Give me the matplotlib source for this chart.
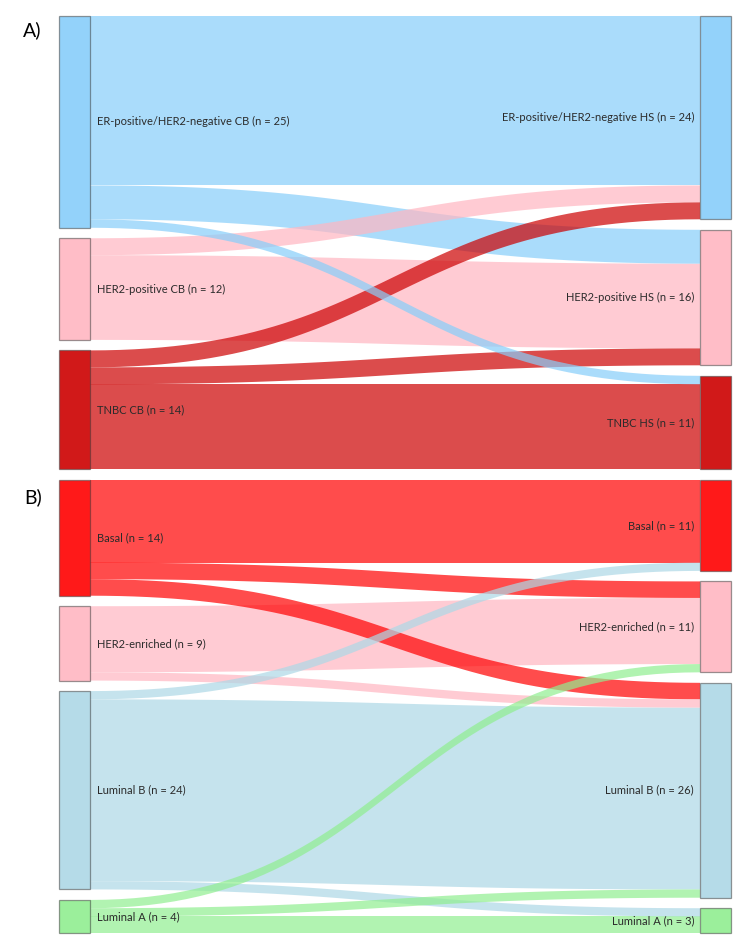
import numpy as np
import matplotlib
matplotlib.use('Agg')
import matplotlib.pyplot as plt
from matplotlib.patches import Rectangle, Polygon

plt.rcParams['font.family'] = ['Lato', 'DejaVu Sans']

# ---------------------------------------------------------------- data
# panel A: clinical biopsy (CB) -> histology/surgery (HS)
a_sources = ['ER-positive/HER2-negative CB', 'HER2-positive CB', 'TNBC CB']
a_targets = ['ER-positive/HER2-negative HS', 'HER2-positive HS', 'TNBC HS']
a_colors = ['lightskyblue', 'lightpink', '#CC0000']
# rows = source, cols = target
a_flows = [[20, 4, 1],
           [2, 10, 0],
           [2, 2, 10]]

# panel B: PAM50 subtypes
b_sources = ['Basal', 'HER2-enriched', 'Luminal B', 'Luminal A']
b_targets = ['Basal', 'HER2-enriched', 'Luminal B', 'Luminal A']
b_colors = ['red', 'lightpink', 'lightblue', 'lightgreen']
b_flows = [[10, 2, 2, 0],
           [0, 8, 1, 0],
           [1, 0, 22, 1],
           [0, 1, 1, 2]]

# ---------------------------------------------------------------- style
FIG_W, FIG_H = 756, 949
NODE_LEFT_X = 59
NODE_RIGHT_X = 700
NODE_W = 31
PAD = 10.5
LINK_ALPHA = 0.7
NODE_ALPHA = 0.9
LABEL_SIZE = 8.0
TEXT_RGB = '#2b2b2b'


def bezier_edge(x0, x1, y0, y1, n=60):
    t = np.linspace(0, 1, n)
    xm = (x0 + x1) / 2
    xs = (1-t)**3*x0 + 3*(1-t)**2*t*xm + 3*(1-t)*t**2*xm + t**3*x1
    ys = (1-t)**3*y0 + 3*(1-t)**2*t*y0 + 3*(1-t)*t**2*y1 + t**3*y1
    return xs, ys


def node_positions(totals, top, scale):
    pos = []
    y = top
    for v in totals:
        pos.append((y, y + v * scale))
        y += v * scale + PAD
    return pos


def draw_sankey(ax, sources, targets, colors, flows, top, bottom):
    flows = np.array(flows)
    src_tot = flows.sum(axis=1)
    tgt_tot = flows.sum(axis=0)
    height = bottom - top
    scale = min((height - (len(src_tot)-1)*PAD) / src_tot.sum(),
                (height - (len(tgt_tot)-1)*PAD) / tgt_tot.sum())
    src_pos = node_positions(src_tot, top, scale)
    tgt_pos = node_positions(tgt_tot, top, scale)

    x0 = NODE_LEFT_X + NODE_W
    x1 = NODE_RIGHT_X

    # target-side offsets follow source order
    tgt_off = [p[0] for p in tgt_pos]
    link_t = {}
    for j in range(len(targets)):
        for i in range(len(sources)):
            if flows[i, j]:
                link_t[(i, j)] = tgt_off[j]
                tgt_off[j] += flows[i, j]*scale
    # source-side offsets follow target order
    src_off = [p[0] for p in src_pos]
    links = []
    for i in range(len(sources)):
        for j in range(len(targets)):
            if flows[i, j]:
                h = flows[i, j]*scale
                links.append((flows[i, j], i, src_off[i], link_t[(i, j)], h))
                src_off[i] += h

    # thick links first, thin ones on top
    links.sort(key=lambda l: -l[0])
    for v, i, s0, t0, h in links:
        xt, yt = bezier_edge(x0, x1, s0, t0)
        xb, yb = bezier_edge(x0, x1, s0 + h, t0 + h)
        pts = np.column_stack([np.concatenate([xt, xb[::-1]]),
                               np.concatenate([yt, yb[::-1]])])
        ax.add_patch(Polygon(pts, closed=True, facecolor=colors[i],
                             alpha=LINK_ALPHA, edgecolor='none', zorder=1))

    # nodes and labels
    for i, (y0, y1) in enumerate(src_pos):
        ax.add_patch(Rectangle((NODE_LEFT_X, y0), NODE_W, y1-y0,
                               facecolor=matplotlib.colors.to_rgba(colors[i], NODE_ALPHA),
                               edgecolor=(0.27, 0.27, 0.27, 0.55), linewidth=0.9, zorder=3))
        ax.text(NODE_LEFT_X + NODE_W + 7, (y0+y1)/2,
                '%s (n = %d)' % (sources[i], src_tot[i]),
                ha='left', va='center', fontsize=LABEL_SIZE, color=TEXT_RGB, zorder=4)
    for j, (y0, y1) in enumerate(tgt_pos):
        ax.add_patch(Rectangle((NODE_RIGHT_X, y0), NODE_W, y1-y0,
                               facecolor=matplotlib.colors.to_rgba(colors[j], NODE_ALPHA),
                               edgecolor=(0.27, 0.27, 0.27, 0.55), linewidth=0.9, zorder=3))
        ax.text(NODE_RIGHT_X - 6, (y0+y1)/2,
                '%s (n = %d)' % (targets[j], tgt_tot[j]),
                ha='right', va='center', fontsize=LABEL_SIZE, color=TEXT_RGB, zorder=4)


figure = plt.figure(figsize=(FIG_W/100, FIG_H/100), dpi=100, facecolor='white')
axes = figure.add_axes([0, 0, 1, 1])
axes.set_xlim(0, FIG_W)
axes.set_ylim(FIG_H, 0)
axes.axis('off')

draw_sankey(axes, a_sources, a_targets, a_colors, a_flows, 16, 469)
draw_sankey(axes, b_sources, b_targets, b_colors, b_flows, 480, 933)

axes.text(23, 30, 'A)', fontsize=14, ha='left', va='center', color='black')
axes.text(24, 497, 'B)', fontsize=14, ha='left', va='center', color='black')

figure.savefig('out.png', dpi=100, facecolor='white')
